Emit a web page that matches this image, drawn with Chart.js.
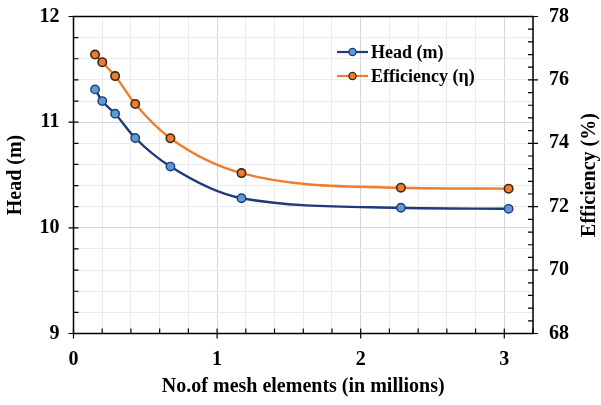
<!DOCTYPE html>
<html>
<head>
<meta charset="utf-8">
<script src="https://cdn.jsdelivr.net/npm/chart.js@4.4.1/dist/chart.umd.min.js"></script>
<style>
  html, body { margin: 0; padding: 0; background: #ffffff; }
  #wrap { width: 601px; height: 405px; }
</style>
</head>
<body>
<div id="wrap"><canvas id="chart" width="601" height="405"></canvas></div>
<script>
// Mesh sizes (millions of elements) and the two monitored quantities
const meshElements = [0.15, 0.20, 0.29, 0.43, 0.675, 1.17, 2.28, 3.03];
const headValues = [11.31, 11.20, 11.08, 10.85, 10.58, 10.28, 10.19, 10.18];
const efficiencyValues = [76.80, 76.56, 76.12, 75.24, 74.16, 73.06, 72.60, 72.57];
const seriesNames = ['Head (m)', 'Efficiency (\u03b7)'];
const xTickLabels = [0, 1, 2, 3];
const headTickLabels = [9, 10, 11, 12];
const effTickLabels = [68, 70, 72, 74, 76, 78];
const rightTitle = 'Efficiency (%)';

const FONT = '"Liberation Serif", "Times New Roman", serif';
const HEAD_LINE = '#1f3a78';
const HEAD_FILL = '#5b9bd5';
const EFF_LINE = '#ed7d31';
const EFF_EDGE = '#3b2816';

const toPoints = (ys) => meshElements.map((x, i) => ({ x: x, y: ys[i] }));
const near = (v, list) => list.some(t => Math.abs(v - t) < 1e-6);

// Axis frame plus major (crossing) and minor (inside) tick marks
const frameTicks = {
  id: 'frameTicks',
  beforeDatasetsDraw(chart) {
    const { ctx, chartArea: a, scales } = chart;
    ctx.save();
    ctx.strokeStyle = '#000';
    ctx.lineWidth = 1.5;
    ctx.strokeRect(a.left, a.top, a.right - a.left, a.bottom - a.top);
    ctx.lineWidth = 1.2;
    ctx.beginPath();
    // bottom axis
    for (let k = 0; k <= 16; k++) {
      const v = k * 0.2;
      const px = scales.x.getPixelForValue(v);
      const major = near(v, xTickLabels);
      ctx.moveTo(px, a.bottom + (major ? 5 : 0));
      ctx.lineTo(px, a.bottom - 5);
    }
    // left axis
    for (let k = 0; k <= 15; k++) {
      const v = 9 + k * 0.2;
      const py = scales.y.getPixelForValue(v);
      const major = near(v, headTickLabels);
      ctx.moveTo(a.left - (major ? 5 : 0), py);
      ctx.lineTo(a.left + 5, py);
    }
    // right axis
    for (let k = 0; k <= 25; k++) {
      const v = 68 + k * 0.4;
      const py = scales.y1.getPixelForValue(v);
      const major = near(v, effTickLabels);
      ctx.moveTo(a.right + (major ? 5 : 0), py);
      ctx.lineTo(a.right - 5, py);
    }
    ctx.stroke();
    ctx.restore();
  }
};

// Right-hand axis title, reading bottom to top like the left one
const rightAxisTitle = {
  id: 'rightAxisTitle',
  afterDraw(chart) {
    const { ctx, chartArea: a } = chart;
    ctx.save();
    ctx.translate(590, (a.top + a.bottom) / 2);
    ctx.rotate(-Math.PI / 2);
    ctx.fillStyle = '#000';
    ctx.font = 'bold 20px ' + FONT;
    ctx.textAlign = 'center';
    ctx.textBaseline = 'middle';
    ctx.fillText(rightTitle, 0, 0);
    ctx.restore();
  }
};

// Legend with line + marker swatches
const lineLegend = {
  id: 'lineLegend',
  afterDraw(chart) {
    const { ctx } = chart;
    const x0 = 337, x1 = 368, rowY = [52, 76];
    ctx.save();
    chart.data.datasets.forEach((ds, i) => {
      const y = rowY[i];
      ctx.strokeStyle = ds.borderColor;
      ctx.lineWidth = 2.2;
      ctx.beginPath();
      ctx.moveTo(x0, y);
      ctx.lineTo(x1, y);
      ctx.stroke();
      ctx.beginPath();
      ctx.arc((x0 + x1) / 2, y, 3.6, 0, Math.PI * 2);
      ctx.fillStyle = ds.pointBackgroundColor;
      ctx.fill();
      ctx.lineWidth = 1.3;
      ctx.strokeStyle = ds.pointBorderColor;
      ctx.stroke();
      ctx.fillStyle = '#000';
      ctx.font = 'bold 18px ' + FONT;
      ctx.textBaseline = 'middle';
      ctx.textAlign = 'left';
      ctx.fillText(ds.label, x1 + 3, y + 1);
    });
    ctx.restore();
  }
};

const gridColor = (ctx, majors) => {
  const v = ctx.tick ? ctx.tick.value : 0;
  return near(v, majors) ? '#d6d6d6' : '#ebebeb';
};

const fixVertical = (w) => (s) => { s.width = w; s.paddingTop = 0; s.paddingBottom = 0; };

new Chart(document.getElementById('chart'), {
  type: 'line',
  data: {
    datasets: [
      {
        label: seriesNames[0],
        data: toPoints(headValues),
        yAxisID: 'y',
        borderColor: HEAD_LINE,
        borderWidth: 2.4,
        pointBackgroundColor: HEAD_FILL,
        pointBorderColor: HEAD_LINE,
        pointBorderWidth: 1.4,
        pointRadius: 4.2,
        cubicInterpolationMode: 'monotone',
        fill: false
      },
      {
        label: seriesNames[1],
        data: toPoints(efficiencyValues),
        yAxisID: 'y1',
        borderColor: EFF_LINE,
        borderWidth: 2.4,
        pointBackgroundColor: EFF_LINE,
        pointBorderColor: EFF_EDGE,
        pointBorderWidth: 1.6,
        pointRadius: 4.2,
        cubicInterpolationMode: 'monotone',
        fill: false
      }
    ]
  },
  options: {
    responsive: false,
    animation: false,
    layout: { padding: { top: 16.5, left: 0, right: 0, bottom: 0 } },
    plugins: { legend: { display: false }, tooltip: { enabled: false } },
    scales: {
      x: {
        type: 'linear',
        min: 0, max: 3.2,
        afterFit: (s) => { s.height = 71.5; s.paddingLeft = 0; s.paddingRight = 0; },
        border: { display: false },
        grid: { drawTicks: false, lineWidth: 1, color: (c) => gridColor(c, xTickLabels) },
        ticks: {
          stepSize: 0.2, autoSkip: false, maxRotation: 0, padding: 14,
          color: '#000', font: { family: FONT, size: 20, weight: 'bold' },
          callback: (v) => near(v, xTickLabels) ? String(Math.round(v)) : ''
        },
        title: {
          display: true, text: 'No.of mesh elements (in millions)', color: '#000',
          font: { family: FONT, size: 20, weight: 'bold' }, padding: { top: 0, bottom: 6 }
        }
      },
      y: {
        position: 'left',
        min: 9, max: 12,
        afterFit: fixVertical(73.5),
        border: { display: false },
        grid: { drawTicks: false, lineWidth: 1, color: (c) => gridColor(c, headTickLabels) },
        ticks: {
          stepSize: 0.2, autoSkip: false, padding: 14,
          color: '#000', font: { family: FONT, size: 20, weight: 'bold' },
          callback: (v) => near(v, headTickLabels) ? String(Math.round(v)) : ''
        },
        title: {
          display: true, text: 'Head (m)', color: '#000',
          font: { family: FONT, size: 20, weight: 'bold' }, padding: { top: 4, bottom: 0 }
        }
      },
      y1: {
        position: 'right',
        min: 68, max: 78,
        afterFit: fixVertical(68),
        border: { display: false },
        grid: { display: false, drawTicks: false },
        ticks: {
          stepSize: 0.4, autoSkip: false, padding: 16,
          color: '#000', font: { family: FONT, size: 20, weight: 'bold' },
          callback: (v) => near(v, effTickLabels) ? String(Math.round(v)) : ''
        },
        title: { display: false }
      }
    }
  },
  plugins: [frameTicks, rightAxisTitle, lineLegend]
});
</script>
</body>
</html>
